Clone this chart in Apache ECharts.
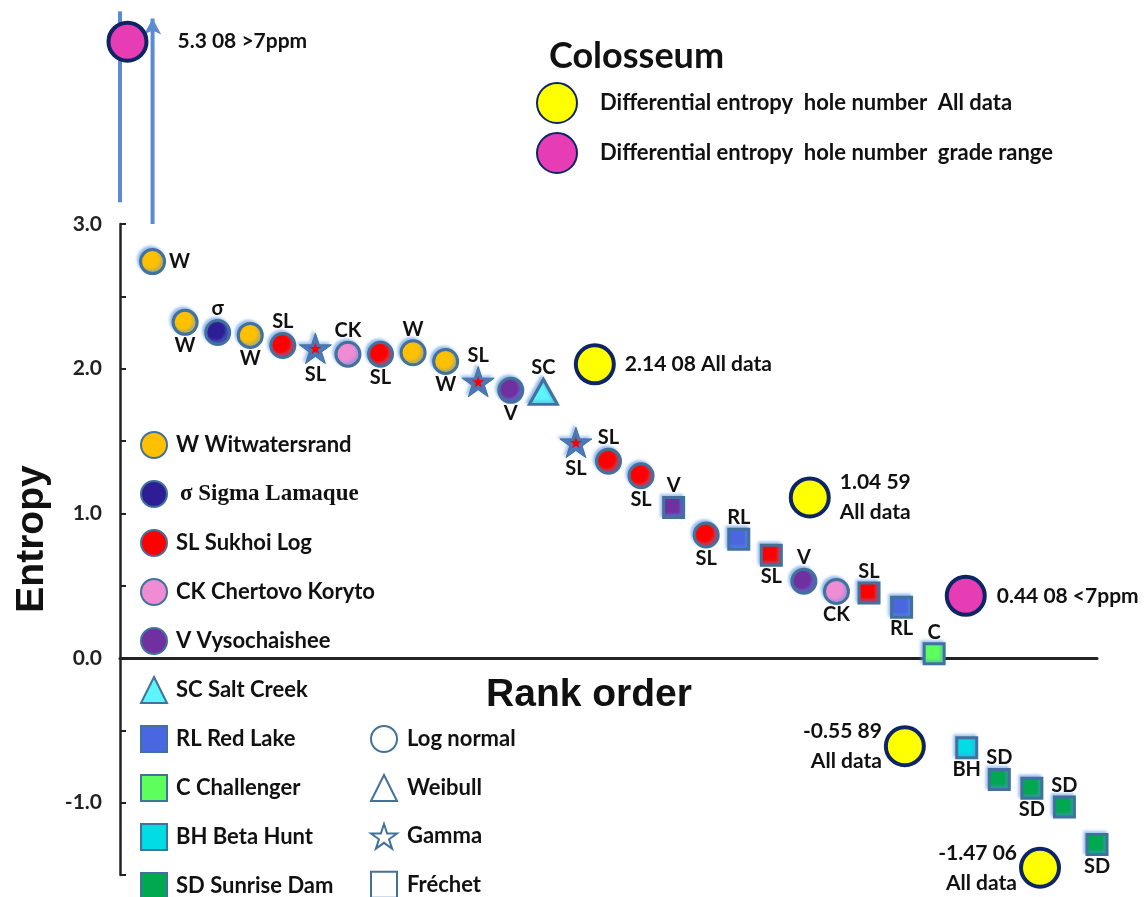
<!DOCTYPE html>
<html>
<head>
<meta charset="utf-8">
<script src="https://cdn.jsdelivr.net/npm/echarts@6/dist/echarts.min.js"></script>
<style>
html,body{margin:0;padding:0;background:#fff;}
#chart{width:1148px;height:897px;}
</style>
</head>
<body>
<div id="chart"></div>
<script>
// ---------------- DATA ----------------
const rank = [1,2,3,4,5,6,7,8,9,10,11,12,13,14,15,16,17,18,19,20,21,22,23,24,25,26,27,28,29,30];
const site = ['W','W','σ','W','SL','SL','CK','SL','W','W','SL','V','SC','SL','SL','SL','V','SL','RL','SL','V','CK','SL','RL','C','BH','SD','SD','SD','SD'];
const distribution = ['LN','LN','LN','LN','LN','G','LN','LN','LN','LN','G','LN','Wb','G','LN','LN','F','LN','F','F','LN','LN','F','F','F','F','F','F','F','F'];
const entropy = [2.74,2.32,2.25,2.23,2.16,2.14,2.10,2.10,2.11,2.05,1.91,1.85,1.84,1.49,1.36,1.26,1.04,0.85,0.82,0.71,0.53,0.46,0.45,0.35,0.03,-0.62,-0.84,-0.90,-1.03,-1.29];

const siteCodes = ['W','σ','SL','CK','V','SC','RL','C','BH','SD'];
const siteNames = ['Witwatersrand','Sigma Lamaque','Sukhoi Log','Chertovo Koryto','Vysochaishee','Salt Creek','Red Lake','Challenger','Beta Hunt','Sunrise Dam'];
const distCodes = ['LN','Wb','G','F'];
const distNames = ['Log normal','Weibull','Gamma','Fréchet'];

// Colosseum differential entropy (hole number)
const colAllRank = [14.58, 21.18, 24.10, 28.25];
const colAllEntropy = [2.03, 1.11, -0.61, -1.45];
const colAllLabel = ['2.14 08 All data', '1.04 59\nAll data', '-0.55 89\nAll data', '-1.47 06\nAll data'];
const colRangeRank = [0.23, 25.97];
const colRangeEntropy = [4.26, 0.43];   // 5.3 plotted off-scale above the axis
const colRangeLabel = ['5.3 08 >7ppm', '0.44 08 <7ppm'];

// off-scale indicator lines: [rank, bottom, top]
const offScaleLines = [[0, 3.15, 4.47], [1, 3.0, 4.42]];

const yTicks = [3.0, 2.0, 1.0, 0.0, -1.0];

// ---------------- STYLE ----------------
const STAR = 'path://M50 2 L61.8 37.6 L99 37.6 L69 59.6 L80.4 95 L50 73 L19.6 95 L31 59.6 L1 37.6 L38.2 37.6 Z';
const siteColor = {W:'#FFC000','σ':'#2E1E96',SL:'#FF0000',CK:'#F08CD4',V:'#7030A0',SC:'#5CF5FA',RL:'#4A66E0',C:'#5CFF5C',BH:'#00DDE3',SD:'#00A84F'};
const siteLegendSymbol = {W:'circle','σ':'circle',SL:'circle',CK:'circle',V:'circle',SC:'triangle',RL:'rect',C:'rect',BH:'rect',SD:'rect'};
const distSymbol = {LN:'circle', Wb:'triangle', G:STAR, F:'rect'};
const distSize = {LN:24, Wb:[28,25], G:32, F:20};
const BORDER = '#41719C';
const STARFILL = '#4A76B4';
const FONT = 'Lato';
const labelStyle = {fontFamily:FONT, fontWeight:'bold', fontSize:20, color:'#111'};
const glow = {shadowColor:'rgba(90,150,225,0.55)', shadowBlur:3, shadowOffsetX:-2, shadowOffsetY:-2};

const series = [];

// off-scale blue lines
offScaleLines.forEach((l, k) => {
  series.push({
    type:'line', silent:true, clip:false, z:1,
    symbol: k === 1 ? 'arrow' : 'none', symbolSize:[13,16], showSymbol:true,
    itemStyle:{color:'#5B8BD0', opacity:1}, lineStyle:{color:'#5B8BD0', width:4},
    data:[{value:[l[0], l[1]], symbol:'none'}, {value:[l[0], l[2]]}]
  });
});

// site series
siteCodes.forEach((code, k) => {
  const data = [];
  rank.forEach((r, i) => {
    if (site[i] !== code) return;
    const d = distribution[i];
    const item = {
      value:[r, entropy[i]],
      symbol: distSymbol[d],
      symbolSize: distSize[d],
      label:{position: i === 0 ? 'right' : (i % 2 ? 'bottom' : 'top'), distance: i === 0 ? 3 : 0}
    };
    if (d === 'G') item.itemStyle = {color: STARFILL, borderColor: BORDER, borderWidth: 1};
    data.push(item);
  });
  series.push({
    type:'scatter', name: code + ' ' + siteNames[k], z:3, clip:false,
    symbol: siteLegendSymbol[code], symbolSize: 24, symbolKeepAspect:true,
    itemStyle: Object.assign({color: siteColor[code], borderColor: BORDER, borderWidth: 3, opacity:1}, glow),
    label: Object.assign({show:true, formatter: code}, labelStyle),
    data
  });
});

// red core of gamma stars
series.push({
  type:'scatter', name:'gammaCore', silent:true, z:4, symbol:STAR, symbolSize:12, symbolKeepAspect:true,
  itemStyle:{color:'#FF0000', opacity:1},
  data: rank.map((r, i) => distribution[i] === 'G' ? [r, entropy[i]] : null).filter(v => v)
});

// distribution legend dummies
distCodes.forEach((d, k) => {
  series.push({
    type:'scatter', name: distNames[k], symbol: distSymbol[d], symbolKeepAspect:true,
    itemStyle:{color:'#ffffff', borderColor: BORDER, borderWidth: 3, opacity:1}, data:[]
  });
});

// Colosseum
const colText = {fontFamily:FONT, fontWeight:'bold', fontSize:21, color:'#111', lineHeight:30};
series.push({
  type:'scatter', name:'Differential entropy  hole number  All data', z:5, clip:false,
  symbol:'circle', symbolSize:38,
  itemStyle:{color:'#FFFF00', borderColor:'#0E2565', borderWidth:4, opacity:1},
  label: Object.assign({show:true, distance:9}, colText),
  data: colAllRank.map((r, i) => ({value:[r, colAllEntropy[i]], label:{formatter: colAllLabel[i], position: i < 2 ? 'right' : 'left', distance: i < 2 ? 9 : 2}}))
});
series.push({
  type:'scatter', name:'Differential entropy  hole number  grade range', z:5, clip:false,
  symbol:'circle', symbolSize:38,
  itemStyle:{color:'#E63CB4', borderColor:'#0E2565', borderWidth:4, opacity:1},
  label: Object.assign({show:true, position:'right'}, colText),
  data: colRangeRank.map((r, i) => ({value:[r, colRangeEntropy[i]], label:{formatter: colRangeLabel[i], distance: i === 0 ? 29 : 10}}))
});

const legendText = {fontFamily:FONT, fontWeight:'bold', fontSize:22, lineHeight:26, color:'#111', padding:[0,0,0,4]};

const option = {
  backgroundColor:'#ffffff',
  animation:false,
  title:{text:'Colosseum', left:544, top:33, textStyle:{fontFamily:FONT, fontWeight:'bold', fontSize:36, color:'#111'}},
  grid:{left:120, right:51, top:224, bottom:22, containLabel:false},
  xAxis:{
    type:'value', min:0, max:30,
    axisLine:{onZero:true, lineStyle:{color:'#222', width:3}},
    axisTick:{show:false}, axisLabel:{show:false}, splitLine:{show:false}
  },
  yAxis:{
    type:'value', min:-1.5, max:3.0, interval:0.5,
    axisLine:{show:true, lineStyle:{color:'#222', width:2.5}},
    axisTick:{show:true, inside:true, length:6, lineStyle:{color:'#222', width:2}},
    axisLabel:{
      margin:18, fontFamily:FONT, fontWeight:'bold', fontSize:21, color:'#222',
      formatter: v => yTicks.indexOf(v) >= 0 ? v.toFixed(1) : ''
    },
    splitLine:{show:false}
  },
  legend:[
    {
      orient:'vertical', left:140, top:431, height:560, padding:0, itemWidth:26, itemHeight:26, itemGap:21,
      selectedMode:false, textStyle:legendText,
      data: siteCodes.map((c, k) => c === 'σ'
        ? {name: c + ' ' + siteNames[k], textStyle:{fontFamily:'Liberation Serif', fontWeight:'bold', fontSize:23, lineHeight:26, padding:[0,0,0,8]}}
        : {name: c + ' ' + siteNames[k]})
    },
    {
      orient:'vertical', left:370, top:725, height:300, padding:0, itemWidth:26, itemHeight:26, itemGap:21,
      selectedMode:false, textStyle:Object.assign({}, legendText, {padding:[0,0,0,5]}),
      data: distNames.slice()
    },
    {
      orient:'vertical', left:536, top:82, padding:0, itemWidth:40, itemHeight:40, itemGap:8,
      selectedMode:false, textStyle:Object.assign({}, legendText, {padding:[0,0,0,18]}),
      data:['Differential entropy  hole number  All data', 'Differential entropy  hole number  grade range']
    }
  ],
  graphic:[
    {type:'text', x:32, y:539, rotation:Math.PI/2, style:{text:'Entropy', font:'bold 39px "Liberation Sans"', fill:'#111', align:'center', verticalAlign:'middle'}},
    {type:'text', x:589, y:695, style:{text:'Rank order', font:'bold 39px "Liberation Sans"', fill:'#111', align:'center', verticalAlign:'middle'}}
  ],
  series
};

const chart = echarts.init(document.getElementById('chart'), null, {renderer:'canvas'});
chart.setOption(option);
</script>
</body>
</html>
